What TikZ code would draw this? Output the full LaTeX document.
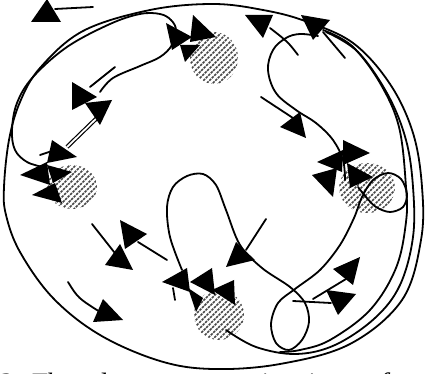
\documentclass[tikz,border=0pt]{standalone}
\usepackage{fontspec}
\setmainfont{Liberation Serif}
\newcommand{\HatchDisc}[4]{%
  \begin{scope}
    \clip (#1,#2) ellipse [x radius=#3, y radius=#4];
    \foreach \k in {-66,-60,...,66} {\draw[hatch] ({#1+\k-40},{#2+40}) -- ({#1+\k+40},{#2-40});}
  \end{scope}}
\begin{document}
\begin{tikzpicture}[x=1pt,y=-1pt,
  curve/.style={line width=1.8pt, line join=round, line cap=round},
  hatch/.style={line width=1.6pt, black!72, dash pattern=on 2.5pt off 1pt},
  tri/.style={fill=black}]
\useasboundingbox (0,0) rectangle (426,374);
\clip (0,0) rectangle (426,374);

% hatched discs
\HatchDisc{214}{58}{24}{26}
\HatchDisc{72}{187}{25}{22}
\HatchDisc{367}{188}{28}{25}
\HatchDisc{219}{315}{25}{25}

% big outer loop
\draw[curve] plot[smooth cycle, tension=0.6] coordinates {(213,4) (263,10) (305,21) (353,43) (390,84) (413,133) (422,187) (421,240) (402,300) (350,344) (280,364) (213,369) (160,361) (100,335) (53,298) (20,252) (6,215) (4,187) (9,140) (20,102) (40,68) (83,31) (150,10)};

% curve B (upper left loop)
\draw[curve] plot[smooth, tension=0.6] coordinates {(43,167) (27,162) (15,150) (12,130) (17,103) (33,77) (67,47) (110,24) (140,14) (160,14) (171,20) (176,30) (172,45) (160,57) (140,66) (113,78) (100,92)};

% curve E (upper right S)
\draw[curve] plot[smooth, tension=0.6] coordinates {(318,36) (300,34) (286,38) (273,50) (268,70) (276,93) (296,110) (316,123) (333,140) (343,160) (345,180)};

% curves C and D around right side
\draw[curve] plot[smooth, tension=0.6] coordinates {(323,30) (352,46) (380,83) (399,127) (406,187) (406,222) (396,268) (370,310) (330,340) (300,350) (280,352)};
\draw[curve] plot[smooth, tension=0.6] coordinates {(326,32) (358,52) (388,95) (406,140) (413,187) (413,237) (400,285) (375,318) (335,345) (296,354) (256,347) (226,330)};

% curve H (middle loop)
\draw[curve] plot[smooth, tension=0.55] coordinates {(182,270) (170,237) (167,207) (173,187) (187,176) (203,174) (216,185) (226,210) (240,245) (262,268) (290,287) (305,303) (309,322) (302,340) (289,350) (276,343) (271,324) (278,303) (295,289) (320,270) (340,245) (354,218) (362,197) (373,180) (388,173) (401,179) (407,194) (403,207) (390,212) (376,207) (366,197) (358,187)};

% straight / short arrow shafts
\draw[curve] (93,7) -- (55,9);
\draw[curve] (115,67) -- (90,87);
\draw[line width=1.2pt, double distance=1.8pt] (102,113) -- (67,147);
\draw[curve] (40,155) -- (52,151);
\draw[curve] (298,55) .. controls (288,42) .. (270,28);
\draw[curve] (345,58) -- (323,32);
\draw[curve] (261,97) -- (293,118);
\draw[curve] (92,224) -- (118,257);
\draw[curve] (167,260) -- (138,242);
\draw[curve] (68,282) .. controls (78,298) .. (100,312);
\draw[curve] (173,288) -- (175,300);
\draw[curve] (266,219) -- (246,250);
\draw[curve] (313,299) -- (346,279);
\draw[curve] (293,301) -- (331,303);

% arrowheads (filled triangles)
\fill[tri] (31,22) -- (61,22) -- (47,-1) -- cycle;
\fill[tri] (166,23) -- (192,37) -- (172,50) -- cycle;
\fill[tri] (193,15) -- (216,37) -- (190,42) -- cycle;
\fill[tri] (180,45) -- (200,45) -- (185,62) -- cycle;
\fill[tri] (72,82) -- (97,97) -- (72,110) -- cycle;
\fill[tri] (85,103) -- (112,100) -- (100,125) -- cycle;
\fill[tri] (52,140) -- (77,157) -- (47,163) -- cycle;
\fill[tri] (20,175) -- (47,162) -- (50,185) -- cycle;
\fill[tri] (47,165) -- (72,172) -- (53,183) -- cycle;
\fill[tri] (32,195) -- (55,183) -- (62,203) -- cycle;
\fill[tri] (245,15) -- (273,15) -- (263,38) -- cycle;
\fill[tri] (301,15) -- (330,20) -- (313,40) -- cycle;
\fill[tri] (280,127) -- (300,112) -- (306,138) -- cycle;
\fill[tri] (317,162) -- (343,150) -- (342,172) -- cycle;
\fill[tri] (343,140) -- (370,153) -- (343,165) -- cycle;
\fill[tri] (312,175) -- (337,168) -- (333,197) -- cycle;
\fill[tri] (347,163) -- (373,177) -- (350,188) -- cycle;
\fill[tri] (105,265) -- (120,244) -- (133,270) -- cycle;
\fill[tri] (120,220) -- (147,234) -- (125,249) -- cycle;
\fill[tri] (93,322) -- (103,299) -- (123,320) -- cycle;
\fill[tri] (162,282) -- (187,268) -- (190,292) -- cycle;
\fill[tri] (190,282) -- (212,268) -- (215,295) -- cycle;
\fill[tri] (212,290) -- (234,280) -- (235,305) -- cycle;
\fill[tri] (188,288) -- (203,298) -- (196,312) -- cycle;
\fill[tri] (226,267) -- (236,242) -- (255,260) -- cycle;
\fill[tri] (333,269) -- (360,257) -- (353,285) -- cycle;
\fill[tri] (326,290) -- (356,294) -- (338,315) -- cycle;

% caption (cut by the lower edge, as in the reference)
\node[anchor=base west, inner sep=0pt, font=\fontsize{28}{30}\selectfont\itshape] (caption) at (-2,392) {2.\hspace{11pt}The\hspace{20pt}dancers\hspace{12pt}move\hspace{8pt}in\hspace{14pt}rings\hspace{12pt}of};
\end{tikzpicture}
\end{document}
